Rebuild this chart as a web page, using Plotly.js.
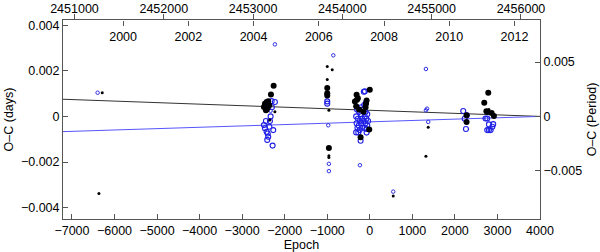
<!DOCTYPE html>
<html><head><meta charset="utf-8">
<script src="https://cdn.plot.ly/plotly-3.0.1.min.js"></script>
<style>html,body{margin:0;padding:0;background:#fff;}#chart{width:600px;height:252px;}</style>
</head><body><div id="chart"></div>
<script>
// Ephemeris used for the secondary axes
var period = 0.4765;        // days per epoch
var jdZero = 2454307;       // JD at epoch 0
var jdYear2000 = 2451544.5; // JD at 2000.0

var epochRange = [-7210, 4000];
var daysRange = [-0.0045, 0.00423];

// Black filled, large
var blackBigEpoch = [-2260,-2323,-2425,-2464,-2488,-2425,-2363,-2387,-2441,-2450,-2400,
  -1000,-1000,-1000,-961,
  0,-310,-300,-350,-75,-90,-320,-250,-150,-13,-216,-280,-100,
  2274,2274,
  2784,2690,2740,2760,2863,2917];
var blackBigOC = [0.00135,0.00096,0.00063,0.00056,0.00041,0.0003,0.00049,0.00067,0.00027,0.00045,0.00038,
  0.00125,0.00102,0.00092,-0.00139,
  0.00117,0.00095,0.00073,0.00065,0.0007,0.00056,0.00045,0.0003,0.0002,-0.00057,-0.00091,0.0008,0.0004,
  0.00005,-0.00024,
  0.00104,0.0006,0.00023,0.0002,0.00015,0.00002];

// Black filled, small
var blackSmallEpoch = [-6288,-6366,-2230,-2350,-1000,-883,-1000,-961,-961,-961,551,1373,1319,2800];
var blackSmallOC = [0.00104,-0.00338,0.0002,-0.00016,0.00219,0.00205,0.00162,0.00027,-0.00172,-0.0018,-0.00349,-0.00048,-0.00175,0.0003];

// Blue open, large
var blueBigEpoch = [-2307,-2230,-2331,-2347,-2441,-2488,-2464,-2425,-2269,-2387,-2410,-2284,-2400,-2360,-2300,
  -1000,-1000,
  -115,-140,-300,-250,-200,-150,-100,-60,-320,-280,-230,-180,-120,-80,-40,-310,-260,-200,-150,-100,-60,-290,-240,-180,-120,-80,-270,-216,-75,-320,-200,-130,-90,
  2196,2230,2260,2280,
  2720,2760,2800,2900,2880,2800,2760,2840];
var blueBigOC = [0.00067,0.00063,0.0,-0.0002,-0.0002,-0.00038,-0.00052,-0.00067,-0.0006,-0.00089,-0.00103,-0.00128,-0.00075,-0.00045,0.0004,
  0.00066,0.00056,
  0.0011,0.00108,0.0003,0.0002,0.0001,0.0003,0.0002,0.0001,0.0,-0.0001,-0.0002,-0.0001,0.0,-0.0001,-0.0002,-0.0003,-0.0004,-0.0003,-0.0002,-0.0003,-0.0004,-0.0005,-0.0006,-0.0005,-0.0005,-0.00055,-0.0007,-0.00107,-0.00071,-0.0007,0.0004,0.0005,0.0006,
  0.00024,-0.0001,-0.00055,0.00005,
  -0.00009,-0.00009,-0.00035,-0.00034,-0.00045,-0.0006,-0.0006,-0.0006];

// Blue open, small
var blueSmallEpoch = [-6396,-2230,-2330,-858,-977,-961,-961,-232,551,1319,1319,1345,1373];
var blueSmallOC = [0.00104,0.00316,0.00025,0.00268,-0.00039,-0.00208,-0.0024,-0.00214,-0.0033,0.00208,0.00027,0.00034,-0.00024];

// Fitted lines
var lineEpoch = [-7210, 4000];
var blackLineOC = [0.000754, 0.0];
var blueLineOC = [-0.000667, 0.0];

var toJD = function(e){ return jdZero + period*e; };
var toYear = function(e){ return 2000 + (toJD(e) - jdYear2000)/365.25; };
var toPeriod = function(d){ return d/period; };

var axisColor = '#555';
var fnt = {family:'Liberation Sans, Arial, sans-serif', size:12.5, color:'#000'};

var traces = [
  {x:lineEpoch, y:blackLineOC, mode:'lines', line:{color:'#333', width:1}, hoverinfo:'skip'},
  {x:lineEpoch, y:blueLineOC, mode:'lines', line:{color:'#5555ff', width:1}, hoverinfo:'skip'},
  {x:blueBigEpoch, y:blueBigOC, mode:'markers', marker:{symbol:'circle-open', size:5, color:'#1f1fe6', line:{width:1.1}}},
  {x:blueSmallEpoch, y:blueSmallOC, mode:'markers', marker:{symbol:'circle-open', size:3.5, color:'#3030e6', line:{width:1}}},
  {x:blackBigEpoch, y:blackBigOC, mode:'markers', marker:{symbol:'circle', size:6, color:'#000'}},
  {x:blackSmallEpoch, y:blackSmallOC, mode:'markers', marker:{symbol:'circle', size:3, color:'#000'}},
  // helper traces anchoring the secondary axes (invisible)
  {x:blackBigEpoch.map(toJD), y:blackBigOC, xaxis:'x2', yaxis:'y', mode:'markers', marker:{opacity:0}, hoverinfo:'skip'},
  {x:blackBigEpoch.map(toYear), y:blackBigOC, xaxis:'x3', yaxis:'y', mode:'markers', marker:{opacity:0}, hoverinfo:'skip'},
  {x:blackBigEpoch, y:blackBigOC.map(toPeriod), xaxis:'x', yaxis:'y2', mode:'markers', marker:{opacity:0}, hoverinfo:'skip'}
];

var layout = {
  width:600, height:252,
  margin:{l:63, r:60, t:20, b:33},
  paper_bgcolor:'#fff', plot_bgcolor:'#fff',
  showlegend:false,
  font:fnt,
  xaxis:{range:epochRange, tick0:-7000, dtick:1000, ticks:'inside', ticklen:5, tickcolor:axisColor,
    showline:true, linecolor:axisColor, linewidth:1, showgrid:false, zeroline:false,
    tickfont:fnt, title:{text:'Epoch', font:fnt, standoff:2}},
  xaxis2:{range:epochRange.map(toJD), overlaying:'x', side:'top', anchor:'y', tick0:2451000, dtick:1000,
    ticks:'outside', ticklen:5, tickcolor:axisColor, showline:true, linecolor:axisColor, linewidth:1,
    showgrid:false, zeroline:false, tickfont:fnt, tickformat:'d', ticklabelstandoff:-4},
  xaxis3:{range:epochRange.map(toYear), overlaying:'x', side:'bottom', anchor:'free', position:1,
    tick0:2000, dtick:2, ticks:'outside', ticklen:5, tickcolor:axisColor, showline:false,
    showgrid:false, zeroline:false, tickfont:fnt, tickformat:'d'},
  yaxis:{range:daysRange, dtick:0.002, ticks:'inside', ticklen:5, tickcolor:axisColor,
    showline:true, linecolor:axisColor, linewidth:1, showgrid:false, zeroline:false,
    tickfont:fnt, title:{text:'O–C (days)', font:fnt, standoff:4}},
  yaxis2:{range:daysRange.map(toPeriod), overlaying:'y', side:'right', anchor:'x', dtick:0.005,
    ticks:'inside', ticklen:5, tickcolor:axisColor, showline:true, linecolor:axisColor, linewidth:1,
    showgrid:false, zeroline:false, tickfont:fnt, title:{text:'O–C (Period)', font:fnt, standoff:6}}
};

Plotly.newPlot('chart', traces, layout, {staticPlot:true, displayModeBar:false});
</script></body></html>
